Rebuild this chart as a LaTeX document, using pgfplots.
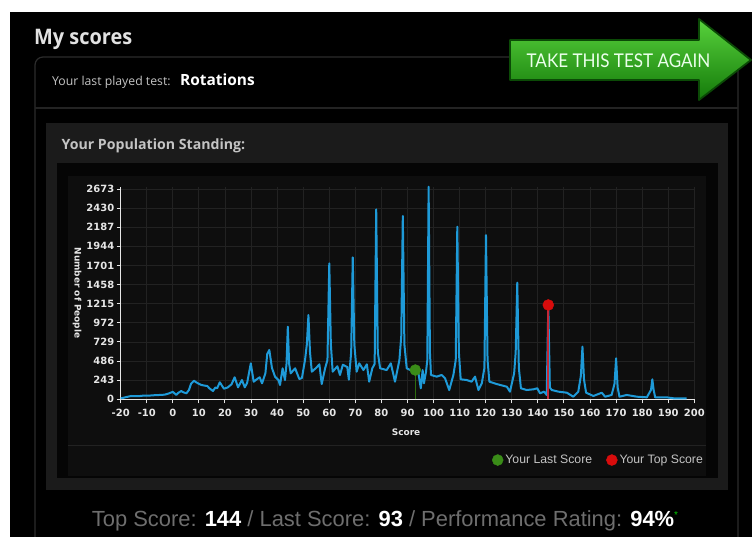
\documentclass[border=0pt]{standalone}
\usepackage{fontspec}
\usepackage{graphicx}
\usepackage{pgfplots}
\pgfplotsset{compat=1.18}
\setmainfont{Liberation Sans}
\newfontfamily\opensans{Open Sans}
\newfontfamily\fira{Fira Sans}
\newfontfamily\dejavu{DejaVu Sans}
\newfontfamily\lato{Lato}
\newfontfamily\libsans{Liberation Sans}

\definecolor{curveblue}{HTML}{1E9AD8}
\definecolor{gridc}{HTML}{222222}
\definecolor{plotbg}{HTML}{0E0E0E}
\definecolor{panel}{HTML}{1B1B1B}
\definecolor{boxline}{HTML}{2C2C2C}
\definecolor{lastgreen}{HTML}{3A8C18}
\definecolor{stickgreen}{HTML}{2D6B0E}
\definecolor{topred}{HTML}{D80C0C}
\definecolor{stickred}{HTML}{C42838}
\definecolor{axisw}{HTML}{E6E6E6}
\definecolor{headw}{HTML}{E2E2E2}
\definecolor{subgray}{HTML}{C4C4C4}
\definecolor{botgray}{HTML}{6E6E6E}
\definecolor{arrowtop}{HTML}{58D23C}
\definecolor{arrowbot}{HTML}{147A0A}
\definecolor{arrowedge}{HTML}{0B4A06}

\pgfplotstableread{
x y
-20 10
-19.8 13
-17 35
-15.9 42
-13 40
-11 48
-9.5 46
-7 52
-5 55
-3.1 59
-1.5 75
0 95
1.3 55
2 80
3.2 105
4 90
5.2 76
6.2 120
7 200
8.1 236
9 215
10.9 182
12 175
13.2 169
14 140
15.4 105
16.3 150
17 140
18.0 216
19.6 135
21 150
22.5 190
23.7 280
25.0 152
26.5 245
27.6 152
28.5 210
29.9 457
31.0 224
32 250
33.3 280
34.2 203
35.5 330
36.2 576
37.0 627
38 400
39.2 287
40.5 245
41.1 182
42.1 394
43.0 245
43.6 450
44.1 923
44.6 450
45.2 330
46.9 394
48.5 258
49.5 270
50.7 500
51.4 700
52.0 1071
52.6 600
53.3 351
55 400
56.2 445
57.1 194
58.4 394
59.3 500
60.0 1728
60.6 700
61.3 351
63.1 420
64.1 309
65.2 440
66.9 409
67.5 250
68.4 600
69.0 1805
69.6 700
70.5 351
71.5 457
73.1 372
74.4 445
75.3 224
76.5 394
77.4 450
78.0 2415
78.6 600
79.5 394
82.0 372
83.6 457
85.2 224
86.9 500
87.6 800
88.2 2330
88.8 700
89.7 394
91 372
92.9 372
94.2 330
95.1 140
95.8 372
96.3 203
97.1 351
97.6 500
98.1 2702
98.6 600
99.0 309
101.2 288
103.1 309
104.4 267
106.0 118
107.6 309
108.5 500
109.1 2194
109.7 600
110.4 254
112.7 245
114.6 224
115.9 288
117.2 118
118.5 203
119.5 400
120.1 2088
120.7 500
121.4 224
124.2 194
128.1 160
129.3 97
130.9 330
131.5 600
132.1 1482
132.7 400
133.5 140
135.7 118
138.3 127
139.8 140
140.8 76
142.4 97
143.4 55
144.0 1190
144.6 150
145.3 118
147.9 97
151.1 84
153.6 33
155.5 97
156.5 300
157.1 669
157.7 250
158.5 84
161.3 42
164.5 84
165.8 33
168.3 55
169.4 200
170.0 521
170.6 150
171.3 33
174.1 55
178.0 33
181.8 25
183.4 120
183.9 254
184.4 120
185.0 25
189.4 25
192.0 13
197.1 13
}\scores

\begin{document}
\begin{tikzpicture}
\useasboundingbox (0,0) rectangle (752bp,537bp);
\clip (0,0) rectangle (752bp,537bp);
\begin{scope}[x=1bp,y=-1bp,yshift=537bp]
  \fill[white] (0,0) rectangle (752,537);
  \fill[black] (10,12) rectangle (752,537);
  \draw[boxline,line width=1.2bp,rounded corners=8bp] (35,540) -- (35,57) -- (738,57) -- (738,540);
  \draw[boxline!80!black,line width=1.2bp] (35,108) -- (738,108);
  \fill[panel] (46,123) rectangle (728,490);
  \fill[black!98!white] (57,163) rectangle (718,478);
  \fill[plotbg] (68,176) rectangle (706,476);
  \draw[gridc,line width=1bp] (68,445.5) -- (706,445.5);
  % headings
  \node[anchor=base west,inner sep=0,text=headw,font=\opensans\bfseries\fontsize{21.5}{21.5}\selectfont] at (34,45) {\scalebox{0.93}[1]{My scores}};
  \node[anchor=base west,inner sep=0,text=subgray,font=\opensans\fontsize{12.3}{12.3}\selectfont] at (52,86) {Your last played test:};
  \node[anchor=base west,inner sep=0,text=white,font=\opensans\bfseries\fontsize{15.5}{15.5}\selectfont] at (180,86) {Rotations};
  \node[anchor=base west,inner sep=0,text=subgray,font=\opensans\bfseries\fontsize{14.2}{14.2}\selectfont] at (61.5,150) {Your Population Standing:};
  % bottom line
  \node[anchor=base,inner sep=0,font=\libsans\fontsize{22}{22}\selectfont] at (385,527) {\textcolor{botgray}{Top Score:} \textcolor{white}{\bfseries 144} \textcolor{botgray}{/ Last Score:} \textcolor{white}{\bfseries 93} \textcolor{botgray}{/ Performance Rating:} \textcolor{white}{\bfseries 94\%}\textcolor{green!80!black}{\raisebox{8bp}{\fontsize{10}{10}\selectfont *}}};
  % arrow
  \path[draw=arrowedge,line width=1.8bp,line join=round,top color=arrowtop,bottom color=arrowbot] (510,40) -- (699,40) -- (699,19) -- (751,60) -- (699,100) -- (699,80) -- (510,80) -- cycle;
  \node[inner sep=0,text=green!8!white,font=\lato\fontsize{19}{19}\selectfont] at (618.5,60.5) {\scalebox{0.9}[1]{TAKE THIS TEST AGAIN}};
\end{scope}

\begin{axis}[
  at={(120.7bp,137.7bp)}, anchor=south west,
  scale only axis, width=573.6bp, height=212.4bp,
  xmin=-20, xmax=200, ymin=0, ymax=2700,
  clip=false,
  axis x line*=bottom, axis y line*=left,
  axis line style={-, color=axisw, line width=1.3bp},
  xtick={-20,-10,...,200},
  ytick={0,243,486,729,972,1215,1458,1701,1944,2187,2430,2673},
  grid=major,
  major grid style={color=gridc, line width=0.9bp},
  tick style={color=axisw, line width=1bp},
  tick align=outside,
  major tick length=4bp,
  /pgf/number format/assume math mode=true,
  /pgf/number format/1000 sep={},
  ticklabel style={font=\dejavu\bfseries\fontsize{10}{10}\selectfont, text=axisw},
  xticklabel style={yshift=-2bp},
  yticklabel style={xshift=1bp},
  xlabel={Score},
  ylabel={Number of People},
  every axis x label/.style={at={(axis description cs:0.4975,-0.154)}, anchor=center, font=\dejavu\bfseries\fontsize{9}{9}\selectfont, text=axisw},
  every axis y label/.style={at={(axis description cs:-0.0762,0.5)}, anchor=center, rotate=-90, font=\dejavu\bfseries\fontsize{9}{9}\selectfont, text=axisw},
  legend columns=2,
  legend style={at={(axis description cs:1.024,-0.286)}, anchor=east, draw=none, fill=none,
    font=\libsans\fontsize{12.3}{12.3}\selectfont, text=subgray,
    /tikz/every even column/.append style={column sep=12bp}},
  legend image code/.code={\fill[#1] (8bp,0bp) circle (5.5bp);},
]
\addplot[curveblue, line width=2bp, line join=round, forget plot] table[x=x,y=y] {\scores};
\addplot[stickgreen, line width=1.6bp, forget plot] coordinates {(93,0) (93,372)};
\addplot[stickred, line width=2bp, forget plot] coordinates {(144,0) (144,1199)};
\addplot[only marks, mark=*, mark size=5.5bp, lastgreen, forget plot] coordinates {(93,372)};
\addplot[only marks, mark=*, mark size=5.5bp, topred, forget plot] coordinates {(144,1199)};
\addlegendimage{lastgreen}
\addlegendentry{Your Last Score}
\addlegendimage{topred}
\addlegendentry{Your Top Score}
\end{axis}
\end{tikzpicture}
\end{document}
